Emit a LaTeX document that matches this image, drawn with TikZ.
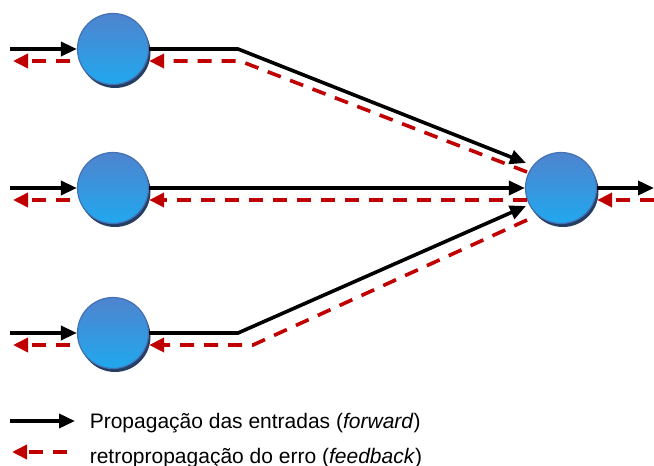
\documentclass[tikz,border=0pt]{standalone}
\usepackage{fontspec}
\setmainfont{Liberation Sans}
\usepackage{xcolor}
\usetikzlibrary{calc,arrows.meta,shadows}

\definecolor{neurontop}{HTML}{4F84CE}
\definecolor{neuronbot}{HTML}{20A8EE}
\definecolor{neuronedge}{HTML}{4470B4}
\definecolor{errred}{HTML}{C00000}

\begin{document}
\begin{tikzpicture}[
  x=1pt, y=-1pt, % pixel-like units, y grows downwards
  line width=3.6pt,
  font=\fontsize{21}{25}\selectfont,
  neuron/.style={circle,minimum size=71pt,inner sep=0pt,draw=neuronedge,line width=1.2pt,
    top color=neurontop,bottom color=neuronbot,
    drop shadow={shadow xshift=2pt,shadow yshift=-3.5pt,fill=neuronedge!55!black,opacity=1}}, % style of the neurons
  fwd/.style={draw=black,-{Triangle[length=16pt,width=14pt]}}, % forward signal
  bwd/.style={draw=errred,dash pattern=on 14pt off 10pt,-{Triangle[length=15pt,width=14pt]}} % error signal
  ]

  \useasboundingbox (0,0) rectangle (654,466);

  \node[neuron] (in1) at (113,49) {};
  \node[neuron] (in2) at (113,188) {};
  \node[neuron] (in3) at (113,333) {};
  \node[neuron] (out) at (561,188) {};

  % free ends and bends
  \coordinate (a1) at (10,49);
  \coordinate (a2) at (10,188);
  \coordinate (a3) at (10,333);
  \coordinate (r1) at (13,61);
  \coordinate (r2) at (13,200);
  \coordinate (r3) at (13,345);
  \coordinate (k1) at (238,49);
  \coordinate (k3) at (238,333);
  \coordinate (q1) at (240,61);
  \coordinate (q3) at (253,345);
  \coordinate (t1) at (526,163);
  \coordinate (t3) at (526,206);
  \coordinate (s1) at (527,172);
  \coordinate (s2) at (527,200);
  \coordinate (s3) at (527,220);
  \coordinate (y1) at (654,188);
  \coordinate (y2) at (654,200);

  % forward
  \draw[fwd] (a1) -- (in1);
  \draw[fwd] (a2) -- (in2);
  \draw[fwd] (a3) -- (in3);
  \draw[fwd] (in1) -- (k1) -- (t1);
  \draw[fwd] (in2) -- (out);
  \draw[fwd] (in3) -- (k3) -- (t3);
  \draw[fwd] (out) -- (y1);

  % feedback
  \draw[bwd] (y2) -- (out.east |- y2);
  \draw[bwd] (s1) -- (q1) -- (in1.east |- q1);
  \draw[bwd] (s2) -- (in2.east |- s2);
  \draw[bwd] (s3) -- (q3) -- (in3.east |- q3);
  \draw[bwd] ($(in1.west |- r1)+(-7,0)$) -- (r1);
  \draw[bwd] ($(in2.west |- r2)+(-7,0)$) -- (r2);
  \draw[bwd] ($(in3.west |- r3)+(-7,0)$) -- (r3);

  % legend
  \coordinate (la) at (10,421);
  \coordinate (lb) at (75,421);
  \coordinate (lc) at (67,452);
  \coordinate (ld) at (12,452);
  \draw[fwd] (la) -- (lb);
  \draw[bwd] (lc) -- (ld);
  \node[anchor=base west,inner sep=0pt] (lf) at (88,428) {Propagação das entradas (\textit{forward})};
  \node[anchor=base west,inner sep=0pt] (lr) at (88,463) {retropropagação do erro (\textit{feedback})};
\end{tikzpicture}
\end{document}
